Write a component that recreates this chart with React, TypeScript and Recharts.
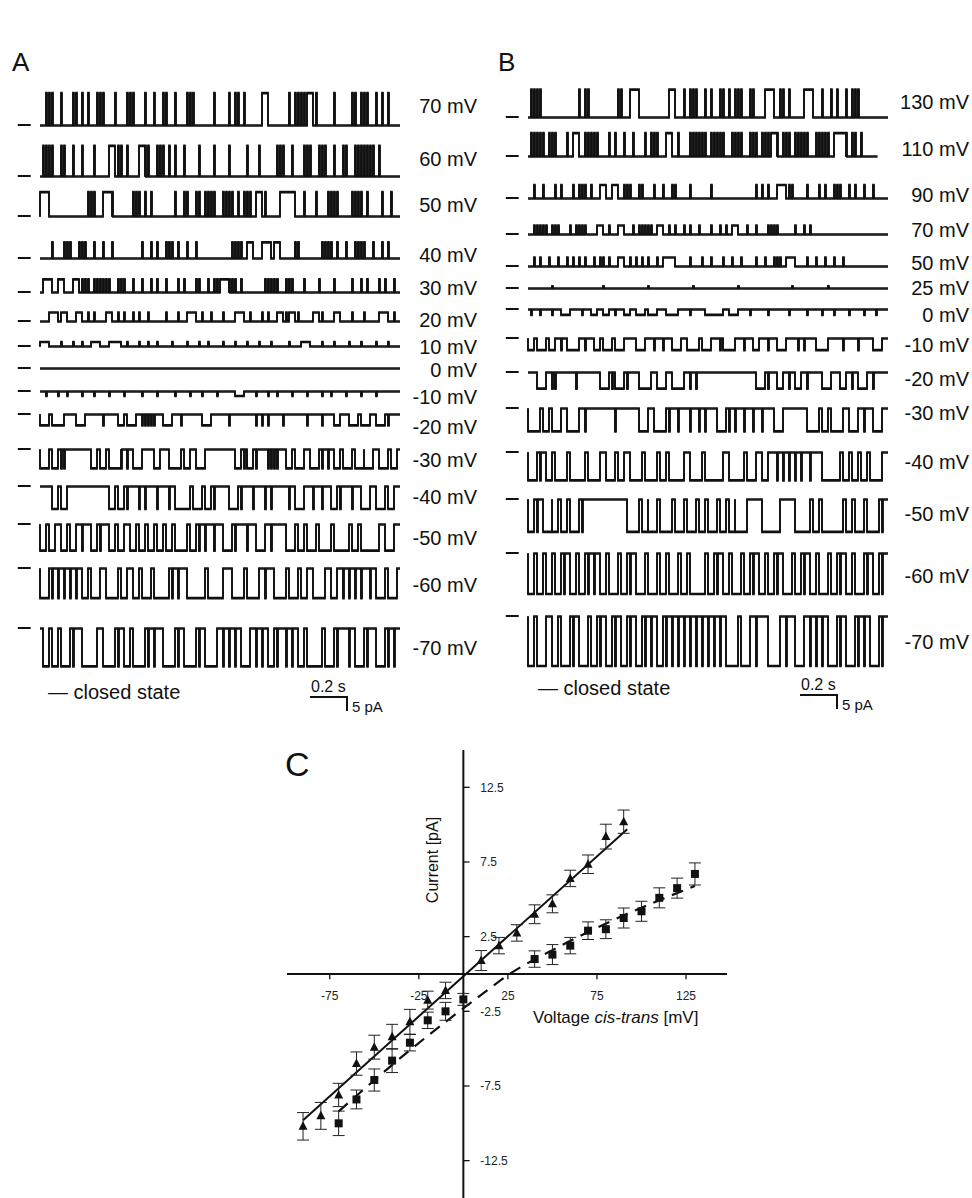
import React from "react";
import {
  LineChart,
  Line,
  XAxis,
  YAxis,
  ReferenceLine,
  ReferenceDot,
  ComposedChart,
  Scatter,
  ErrorBar,
} from "recharts";

const FONT = '"Liberation Sans", Arial, Helvetica, sans-serif';
const INK = "#111";

// ---------- panel A / B : single channel records ----------
// time unit = 1/60 s (120 units = 2 s record)
// events: a number = brief flicker opening, [a, b] = open dwell from a to b+1
const A_VOLTAGES = [70, 60, 50, 40, 30, 20, 10, 0, -10, -20, -30, -40, -50, -60, -70];
const A_AMPS = [7.2, 6.8, 5.4, 3.6, 2.9, 2.0, 1.0, 0, -1.0, -2.4, -4.2, -5.0, -5.8, -6.6, -8.4];
const A_EVENTS: (number | number[])[][] = [
  [2, 3, 4, 7, 11, 12, 14, 16, 19, 20, 21, 25, 29, 30, 31, 35, 38, 41, 42, 45, 49, 50, 51, 58, 63, 65, 66, 68, [74, 75], 83, 85, 86, 87, 88, [89, 90], 92, 98, 104, 105, 107, 108, 109, 112, 114, 116],
  [1, 2, 3, 4, 7, 8, 11, 14, 18, [23, 24], 26, 27, 29, [33, 34], 35, 36, 39, 40, 41, 43, 45, 48, 53, 58, 63, 69, 73, 79, 80, 81, 84, 88, 89, 90, 93, 94, 95, 98, 101, 102, 105, 106, 107, 108, 109, 110, 111, 113],
  [[0, 2], 16, 17, 18, [21, 23], 24, 31, 32, 33, 35, 37, 45, 48, 49, 52, 53, 55, 56, 57, 58, 61, 62, 63, 64, 66, 68, 69, 70, [72, 73], 75, [80, 84], 88, 92, 96, 97, 98, 99, 104, 105, 106, 107, 109, 114, 117],
  [4, 8, 9, 10, 13, 14, 15, 18, 21, 24, 34, 37, 39, 42, 43, 44, 46, 49, 52, 64, 65, 66, 67, [69, 70], [74, 76], [78, 79], 85, 86, 94, 95, 96, 97, 99, 102, 105, 106, 107, 108, 111, 114, 116],
  [[1, 3], [6, 7], [11, 12], 14, 15, 16, 18, 19, 20, 21, 22, 23, 26, 27, 28, 31, 34, 37, 39, 42, 46, 48, 52, 53, 56, 58, 59, [60, 62], 63, 64, 65, 67, 75, 76, 77, 78, 79, 82, 83, 84, 88, 93, 98, 104, 107, 109, 113, 115, 118],
  [[3, 5], [7, 8], [12, 13], 16, 18, [22, 23], 26, 28, 31, 33, 36, 42, 46, [49, 51], 54, 57, 61, [65, 67], 70, 74, 76, [79, 80], 82, [83, 84], 86, [91, 92], 94, [98, 99], 104, 108, [113, 115], 118],
  [[0, 2], 7, 11, 14, [17, 19], [23, 26], 29, 33, 36, 39, 44, 49, 53, 56, 61, 65, 69, 73, 77, 83, [87, 89], 94, 98, 103, 107, 112, 116],
  [],
  [2, 6, 9, 14, 18, 23, 28, 34, 39, 45, 50, 54, 59, [65, 67], 72, 76, 79, 84, 89, 94, 97, 102, 107, 112],
  [[0, 2], [4, 7], [12, 14], 21, [26, 27], [29, 31], 34, 35, 36, 37, 38, [41, 43], 47, [54, 56], 63, 72, 74, 76, 81, 89, 94, [98, 99], [103, 105], [107, 109], [112, 114], 116],
  [[0, 2], [4, 5], 7, 8, [17, 18], [20, 21], [23, 26], 27, 29, [31, 33], [38, 39], [43, 46], [48, 49], [52, 54], [65, 66], 68, [69, 70], 72, 76, 77, 78, 79, [82, 83], [85, 87], [90, 92], 94, 96, [98, 99], [101, 103], [105, 107], [108, 110], [113, 115], [117, 118]],
  [[4, 5], [7, 8], [23, 24], [26, 27], 29, 33, 35, 39, 43, [45, 49], [51, 53], [55, 56], 58, [63, 65], 67, 71, 75, 77, 83, [85, 87], 91, 94, [97, 98], 100, 104, [107, 109], [112, 114], [116, 117]],
  [[0, 1], [3, 4], [7, 8], [10, 11], 14, [17, 18], 20, [23, 24], [26, 27], [30, 31], [33, 34], [36, 37], [39, 40], [42, 43], [45, 48], [50, 51], 53, 55, 58, [61, 63], 65, 69, [72, 74], 77, [82, 84], [86, 87], [89, 91], [93, 96], [98, 102], [104, 105], [107, 112], [115, 117]],
  [[0, 2], 4, 6, 8, 10, 12, [14, 15], [17, 19], [22, 25], [27, 28], [31, 32], [34, 36], [38, 42], 44, 46, [49, 54], [56, 60], [64, 67], [69, 72], 75, [78, 81], [83, 85], [87, 88], [91, 94], [97, 98], 101, 103, 105, 107, 110, [112, 114], [116, 118]],
  [[1, 2], [4, 5], [7, 9], 11, [14, 18], [21, 24], 26, [28, 29], [31, 34], 36, 38, [41, 44], 46, [48, 51], 53, [55, 58], 61, 63, 65, [67, 69], 72, 74, [76, 77], 79, 82, 84, [86, 87], [89, 93], [95, 97], 99, 103, [105, 107], 109, [112, 114], 116, 118],
];

const B_VOLTAGES = [130, 110, 90, 70, 50, 25, 0, -10, -20, -30, -40, -50, -60, -70];
const B_AMPS = [6.2, 5.2, 3.0, 2.0, 2.0, 0.5, -1.2, -2.6, -3.6, -5.1, -6.2, -7.2, -9.0, -11.0];
const B_END = [120, 116.5, 120, 120, 120, 120, 120, 120, 120, 120, 120, 120, 120, 120];
const B_EVENTS: (number | number[])[][] = [
  [1, 2, 3, 4, 17, 19, 20, 30, 31, [34, 36], [47, 48], 52, 54, 55, 56, 59, 61, 64, 65, 67, 69, 70, 71, 74, 75, [79, 81], 84, 85, 87, [92, 94], 98, 101, 103, 106, 108, 109, 110],
  [1, 2, 3, 4, 5, 7, 8, 9, 13, [15, 16], 19, 20, 21, 22, 23, 27, 29, 32, 35, 39, 41, 42, 43, [46, 47], 50, 54, 55, 56, 57, 58, 59, 61, 62, 63, 64, 65, 68, 69, 70, 71, 74, 75, 76, 78, 79, 80, [81, 82], 83, 85, 86, 87, 89, 90, 91, 92, 93, 96, 97, 98, 99, 100, [102, 105], 106, 108, 109, 111],
  [2, 5, 9, 11, 15, 17, 18, 19, 21, [24, 25], [28, 29], 32, 33, 34, 37, 38, 42, 45, 48, 49, 54, 61, 76, 78, 80, [83, 85], 87, 88, 93, 97, 99, 102, 103, 104, 107, 109, 112, 115],
  [2, 3, 4, 5, 6, 8, 9, 10, 14, 16, 17, 18, 19, [23, 24], 27, [30, 31], 35, 37, 38, 39, 40, 41, [43, 44], 47, 49, 52, 54, 57, 61, 64, 66, [68, 69], 73, 76, 80, 81, 82, 83, 89, 92, 94],
  [2, 4, 7, 10, 13, 15, 17, 19, 22, 24, 25, 27, [30, 31], 34, 36, 38, 40, 43, [45, 48], 54, 58, 61, 65, 68, 71, 76, 79, 82, 83, 84, [86, 88], 93, 96, 99, 102, 105],
  [8, 25, 40, 55, 70, 88, 100],
  [1, 4, 8, [11, 13], 18, [21, 22], [25, 26], 29, [32, 33], [36, 38], [40, 42], [46, 49], 54, [59, 64], [67, 69], 74, 80, 87, 93, 98, 102, 107, 112, 116],
  [[0, 1], [3, 5], [7, 8], 11, [13, 16], 19, [22, 23], [25, 27], [29, 31], [36, 38], 42, 45, [48, 50], [53, 56], [58, 60], 64, [65, 68], 72, [75, 76], 80, [83, 85], 90, 92, [96, 99], 105, 110, [115, 117]],
  [[3, 5], 8, 9, 16, [24, 26], 28, [29, 31], 33, [37, 40], [43, 45], [48, 51], 54, 56, [76, 78], 80, [83, 84], 87, [89, 90], 93, [98, 100], [104, 105], 108, [110, 112], 115],
  [[0, 3], [5, 6], [8, 10], [13, 16], 19, 29, [37, 39], [42, 45], 47, 50, 54, 57, 59, [63, 65], 67, 69, 72, 75, 78, [82, 84], [93, 96], [98, 99], [101, 104], [107, 109], 112, [115, 117]],
  [[0, 2], 4, [6, 7], [9, 12], [14, 18], [20, 23], [26, 28], [30, 31], [34, 37], [39, 42], [44, 45], [47, 51], [54, 57], [59, 64], [67, 71], [73, 75], [78, 79], 83, 85, 87, 89, 91, 94, [98, 103], [105, 106], [108, 109], [111, 112], [114, 117]],
  [[0, 1], 3, [5, 7], [8, 9], [11, 12], [14, 16], 18, [33, 36], [38, 39], [40, 42], [44, 47], [49, 51], [53, 55], [57, 58], [60, 62], [64, 65], [67, 68], [69, 72], [78, 83], [89, 93], [95, 96], [98, 104], [106, 107], [109, 111], [113, 116], 118],
  [[0, 1], [3, 4], [6, 7], [9, 10], 12, [14, 15], [17, 18], 20, 22, [24, 25], [27, 29], [31, 32], 34, [36, 38], [40, 42], [44, 45], [47, 49], [51, 52], [54, 58], [60, 61], 63, [65, 66], [68, 70], [72, 73], 75, [77, 78], [80, 81], 83, [85, 87], [89, 90], 92, [94, 95], [97, 99], [101, 102], 104, [106, 107], [109, 111], 113, [115, 116], 118],
  [[0, 1], [3, 5], [8, 9], [11, 13], 15, [17, 19], [21, 22], 24, [26, 27], 29, [31, 32], 34, [36, 37], 39, 41, [43, 44], 46, 48, 50, 52, 54, 56, 58, 60, 62, 64, [66, 69], [71, 73], 76, [80, 83], 86, [89, 91], 94, 96, 98, [100, 102], 104, [106, 108], 110, 112, [114, 116], 118],
];

// layout (closed level / label centre, px)
const A_BASE_Y = [125, 176, 216, 258, 292, 321, 346, 368, 391, 414, 449, 486, 524, 568, 628];
const A_LABEL_Y = [106, 159, 205, 255, 288, 320, 347, 370, 397, 427, 460, 497, 538, 585, 648];
const B_BASE_Y = [117, 156, 198, 234, 266, 288, 309, 338, 372, 408, 452, 499, 553, 616];
const B_LABEL_Y = [102, 149, 195, 230, 263, 288, 315, 345, 379, 413, 462, 514, 576, 642];

// ---------- panel C : I/V ----------
const IV_V_TRI = [-90, -80, -70, -60, -50, -40, -30, -20, -10, 10, 20, 30, 40, 50, 60, 70, 80, 90];
const IV_I_TRI = [-10.2, -9.5, -8.1, -6.0, -4.9, -4.2, -3.2, -1.75, -1.1, 0.9, 1.9, 2.75, 4.0, 4.7, 6.4, 7.35, 9.2, 10.2];
const IV_E_TRI = [0.92, 0.9, 0.78, 0.78, 0.8, 0.83, 0.83, 0.6, 0.55, 0.67, 0.55, 0.55, 0.63, 0.6, 0.55, 0.62, 0.83, 0.78];
const IV_V_SQ = [-70, -60, -50, -40, -30, -20, -10, 0, 40, 50, 60, 70, 80, 90, 100, 110, 120, 130];
const IV_I_SQ = [-10.0, -8.4, -7.1, -5.8, -4.6, -3.1, -2.5, -1.7, 1.0, 1.3, 1.9, 2.9, 3.0, 3.75, 4.2, 5.1, 5.75, 6.7];
const IV_E_SQ = [0.82, 0.63, 0.74, 0.8, 0.55, 0.55, 0.6, 0.4, 0.55, 0.67, 0.55, 0.59, 0.63, 0.67, 0.67, 0.67, 0.67, 0.74];
const FIT_TRI_V = [-90, 92];
const FIT_TRI_I = [-9.8, 9.7];
const FIT_SQ_V = [-70, -30, 10, 26, 50, 84, 130];
const FIT_SQ_I = [-9.2, -5.1, -1.4, 0, 1.6, 3.6, 5.9];
const X_TICKS = [-75, -25, 25, 75, 125];
const Y_TICKS = [12.5, 7.5, 2.5, -2.5, -7.5, -12.5];

function toSteps(events: (number | number[])[], amp: number, end: number) {
  const pts = [{ t: 0, i: 0 }];
  events.forEach((ev) => {
    const [s, e] = typeof ev === "number" ? [ev, ev + 0.3] : [ev[0], ev[1] + 1];
    pts.push({ t: s, i: 0 }, { t: s, i: amp }, { t: e, i: amp }, { t: e, i: 0 });
  });
  pts.push({ t: end, i: 0 });
  return pts;
}

const TRACE_W = 384;
const TRACE_H = 108;

function TraceChart({ data, withDash }: any) {
  return (
    <LineChart width={TRACE_W} height={TRACE_H} data={data} margin={{ top: 0, right: 0, bottom: 0, left: 0 }}>
      <XAxis type="number" dataKey="t" domain={[-8, 120]} hide />
      <YAxis type="number" domain={[-12, 12]} hide allowDataOverflow />
      {withDash && <ReferenceLine segment={[{ x: -7.4, y: 0 }, { x: -3.1, y: 0 }]} stroke={INK} strokeWidth={2} />}
      <Line dataKey="i" type="linear" stroke={INK} strokeWidth={1.7} dot={false} isAnimationActive={false} />
    </LineChart>
  );
}

// drawn twice, slightly apart, so the flat levels get the thickness of the recording noise
function Trace({ events, amp, end, left, baseY }: any) {
  const data = toSteps(events, amp, end);
  return (
    <>
      <div style={{ position: "absolute", left, top: baseY - TRACE_H / 2 }}>
        <TraceChart data={data} withDash />
      </div>
      <div style={{ position: "absolute", left, top: baseY - TRACE_H / 2 + 1.2 }}>
        <TraceChart data={data} />
      </div>
    </>
  );
}

function Text({ x, y, size = 20, children, align = "left", width = 140, style = {} }: any) {
  const left = align === "right" ? x - width : x;
  return (
    <div
      style={{
        position: "absolute",
        left,
        top: y - size / 2,
        width: align === "right" ? width : undefined,
        textAlign: align,
        fontFamily: FONT,
        fontSize: size,
        lineHeight: `${size}px`,
        color: INK,
        whiteSpace: "nowrap",
        ...style,
      }}
    >
      {children}
    </div>
  );
}

function ScaleBar({ x, y }: any) {
  return (
    <>
      <Text x={x + 1} y={y - 9} size={16}>0.2 s</Text>
      <div style={{ position: "absolute", left: x, top: y, width: 37, height: 1.5, background: INK }} />
      <div style={{ position: "absolute", left: x + 36, top: y, width: 1.5, height: 15, background: INK }} />
      <Text x={x + 42} y={y + 10} size={15}>5 pA</Text>
    </>
  );
}

const Triangle = (p: any) => (
  <polygon points={`${p.cx},${p.cy - 5} ${p.cx - 4.5},${p.cy + 3.5} ${p.cx + 4.5},${p.cy + 3.5}`} fill={INK} />
);
const Square = (p: any) => <rect x={p.cx - 4} y={p.cy - 4} width={8} height={8} fill={INK} />;

function IVPlot() {
  const tri = IV_V_TRI.map((v, k) => ({ v, i: IV_I_TRI[k], err: IV_E_TRI[k] }));
  const sq = IV_V_SQ.map((v, k) => ({ v, i: IV_I_SQ[k], err: IV_E_SQ[k] }));
  const fitTri = FIT_TRI_V.map((v, k) => ({ v, i: FIT_TRI_I[k] }));
  const fitSq = FIT_SQ_V.map((v, k) => ({ v, i: FIT_SQ_I[k] }));
  const tickLabel = { fontSize: 12, fill: "#222", fontFamily: FONT };
  return (
    <div style={{ position: "absolute", left: 287, top: 750 }}>
      <ComposedChart width={440} height={448} margin={{ top: 0, right: 0, bottom: 0, left: 0 }}>
        <XAxis type="number" dataKey="v" domain={[-99, 148]} hide allowDataOverflow />
        <YAxis type="number" dataKey="i" domain={[-15, 15]} hide allowDataOverflow />
        <ReferenceLine x={0} stroke={INK} strokeWidth={2} />
        <ReferenceLine y={0} stroke={INK} strokeWidth={2} />
        {X_TICKS.map((v) => (
          <ReferenceLine key={"xt" + v} segment={[{ x: v, y: 0 }, { x: v, y: -0.35 }]} stroke={INK} strokeWidth={1.3} />
        ))}
        {Y_TICKS.map((v) => (
          <ReferenceLine key={"yt" + v} segment={[{ x: 0, y: v }, { x: 3.5, y: v }]} stroke={INK} strokeWidth={1.3} />
        ))}
        {X_TICKS.map((v) => (
          <ReferenceDot key={"xl" + v} x={v} y={0} r={1} fill="none" stroke="none"
            label={{ value: String(v), position: "bottom", offset: 16, ...tickLabel }} />
        ))}
        {Y_TICKS.map((v) => (
          <ReferenceDot key={"yl" + v} x={0} y={v} r={1} fill="none" stroke="none"
            label={{ value: String(v), position: "right", offset: 16, ...tickLabel }} />
        ))}
        <Line data={fitTri} dataKey="i" type="linear" stroke={INK} strokeWidth={2} dot={false} isAnimationActive={false} />
        <Line data={fitSq} dataKey="i" type="monotone" stroke={INK} strokeWidth={2.2} strokeDasharray="12 8" dot={false} isAnimationActive={false} />
        <Scatter data={tri} dataKey="i" shape={Triangle} isAnimationActive={false}>
          <ErrorBar dataKey="err" direction="y" width={6} stroke="#222" strokeWidth={1} />
        </Scatter>
        <Scatter data={sq} dataKey="i" shape={Square} isAnimationActive={false}>
          <ErrorBar dataKey="err" direction="y" width={6} stroke="#222" strokeWidth={1} />
        </Scatter>
      </ComposedChart>
    </div>
  );
}

export default function App() {
  return (
    <div style={{ position: "absolute", left: 0, top: 0, width: 972, height: 1198, background: "#fff", overflow: "hidden" }}>
      <Text x={12} y={62} size={26}>A</Text>
      <Text x={498} y={62} size={26}>B</Text>

      {A_VOLTAGES.map((v, k) => (
        <React.Fragment key={"a" + v}>
          <Trace events={A_EVENTS[k]} amp={A_AMPS[k]} end={120} left={16} baseY={A_BASE_Y[k]} />
          <Text x={477} y={A_LABEL_Y[k]} align="right">{v} mV</Text>
        </React.Fragment>
      ))}
      {B_VOLTAGES.map((v, k) => (
        <React.Fragment key={"b" + v}>
          <Trace events={B_EVENTS[k]} amp={B_AMPS[k]} end={B_END[k]} left={504} baseY={B_BASE_Y[k]} />
          <Text x={969} y={B_LABEL_Y[k]} align="right">{v} mV</Text>
        </React.Fragment>
      ))}

      <Text x={48} y={692}>— closed state</Text>
      <Text x={538} y={688}>— closed state</Text>
      <ScaleBar x={310} y={696} />
      <ScaleBar x={800} y={694} />

      <Text x={285} y={764} size={34}>C</Text>
      <IVPlot />
      <Text x={373} y={860} size={16}
        style={{ width: 120, textAlign: "center", transform: "rotate(-90deg)" }}>Current [pA]</Text>
      <Text x={533} y={1017} size={17}>
        Voltage <i>cis-trans</i> [mV]
      </Text>
    </div>
  );
}
